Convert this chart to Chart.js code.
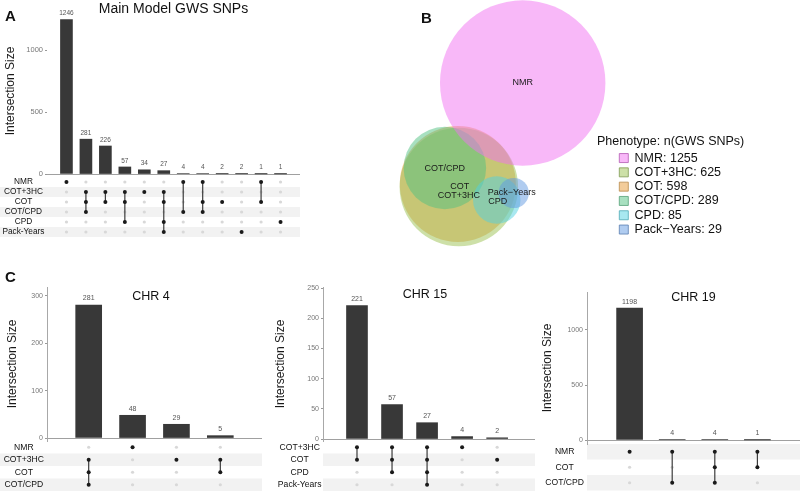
<!DOCTYPE html>
<html>
<head>
<meta charset="utf-8">
<script src="https://cdn.jsdelivr.net/npm/chart.js@4.4.0/dist/chart.umd.min.js"></script>
<style>
  body { margin: 0; background: #fff; }
  #page { position: relative; width: 800px; height: 492px; overflow: hidden; font-family: "Liberation Sans", Arial, sans-serif; }
  canvas { position: absolute; }
  .tag { position: absolute; font-weight: bold; font-size: 15px; line-height: 15px; color: #111; }
  #legTitle { position: absolute; left: 597px; top: 134px; font-size: 12.5px; line-height: 14px; color: #111; }
</style>
</head>
<body>
<div id="page">
  <canvas id="cA" width="305" height="245" style="left:0;top:0"></canvas>
  <canvas id="cB" width="420" height="260" style="left:380px;top:0"></canvas>
  <canvas id="c4" width="270" height="212" style="left:0;top:280px"></canvas>
  <canvas id="c15" width="270" height="212" style="left:270px;top:280px"></canvas>
  <canvas id="c19" width="260" height="212" style="left:540px;top:280px"></canvas>
  <div class="tag" style="left:5px;top:8px">A</div>
  <div class="tag" style="left:421px;top:10px">B</div>
  <div class="tag" style="left:5px;top:269px">C</div>
  <div id="legTitle">Phenotype: n(GWS SNPs)</div>
</div>
<script>
Chart.defaults.font.family = '"Liberation Sans", Arial, sans-serif';
Chart.defaults.animation = false;

// Panel A - main model intersections
const aSets = ["NMR", "COT+3HC", "COT", "COT/CPD", "CPD", "Pack-Years"];
const aSizes = [1246, 281, 226, 57, 34, 27, 4, 4, 2, 2, 1, 1];
const aMembers = [
  ["NMR"],
  ["COT+3HC", "COT", "COT/CPD"],
  ["COT+3HC", "COT"],
  ["COT+3HC", "COT", "CPD"],
  ["COT+3HC"],
  ["COT+3HC", "COT", "CPD", "Pack-Years"],
  ["NMR", "COT/CPD"],
  ["NMR", "COT", "COT/CPD"],
  ["COT"],
  ["Pack-Years"],
  ["NMR", "COT"],
  ["CPD"]
];
const aTicks = [0, 500, 1000];

// Panel B - euler diagram
const vennSets = ["NMR", "COT+3HC", "COT", "COT/CPD", "CPD", "Pack\u2212Years"];
const vennCounts = [1255, 625, 598, 289, 85, 29];

// Panel C - per chromosome
const c4Sets = ["NMR", "COT+3HC", "COT", "COT/CPD"];
const c4Sizes = [281, 48, 29, 5];
const c4Members = [["COT+3HC", "COT", "COT/CPD"], ["NMR"], ["COT+3HC"], ["COT+3HC", "COT"]];
const c4Ticks = [0, 100, 200, 300];

const c15Sets = ["COT+3HC", "COT", "CPD", "Pack-Years"];
const c15Sizes = [221, 57, 27, 4, 2];
const c15Members = [
  ["COT+3HC", "COT"],
  ["COT+3HC", "COT", "CPD"],
  ["COT+3HC", "COT", "CPD", "Pack-Years"],
  ["COT+3HC"],
  ["COT"]
];
const c15Ticks = [0, 50, 100, 150, 200, 250];

const c19Sets = ["NMR", "COT", "COT/CPD"];
const c19Sizes = [1198, 4, 4, 1];
const c19Members = [["NMR"], ["NMR", "COT/CPD"], ["NMR", "COT", "COT/CPD"], ["NMR", "COT"]];
const c19Ticks = [0, 500, 1000];

// layout of the euler circles (page pixels) and their look
const vennCenters = [[523, 83], [459, 187], [458, 184], [445, 168], [497, 200], [514, 193]];
const vennFill = ["rgba(242,114,242,0.5)", "rgba(155,193,81,0.5)", "rgba(231,153,53,0.5)",
                  "rgba(81,193,129,0.5)", "rgba(81,209,225,0.5)", "rgba(97,153,225,0.5)"];
const vennEdge = ["#b45ab4", "#7f9a52", "#b98a4c", "#55a178", "#4fa9b5", "#5b7fb0"];
const vennOrder = [1, 5, 6, 4, 3, 2];
const vennDx = [0, 0, 2, 0, 1, -2];
const vennDy = [0, 9, 3, 1, 2, 0];

const FONT = '"Liberation Sans", Arial, sans-serif';

const upsetDeco = {
  id: 'upsetDeco',
  beforeDraw(chart, args, o) {
    const ys = chart.scales.ys, ca = chart.chartArea, ctx = chart.ctx;
    const n = ys.getLabels().length;
    const h = Math.abs(ys.getPixelForValue(1) - ys.getPixelForValue(0));
    const x0 = o.bandLeft ? 0 : ca.left;
    ctx.save();
    ctx.fillStyle = '#f2f2f2';
    for (let i = 0; i < n; i++) {
      if ((n - 1 - i) % 2) continue;
      const yc = ys.getPixelForValue(i);
      ctx.fillRect(x0, yc - h / 2, ca.right - x0, h);
    }
    ctx.restore();
  },
  afterDatasetsDraw(chart, args, o) {
    const ctx = chart.ctx;
    const ds = chart.data.datasets[0];
    ctx.save();
    ctx.font = o.valueSize + 'px ' + FONT;
    ctx.fillStyle = '#555';
    ctx.textAlign = 'center';
    ctx.textBaseline = 'bottom';
    chart.getDatasetMeta(0).data.forEach((el, i) => {
      ctx.fillText(String(ds.data[i].y), el.x, el.y - 3);
    });
    ctx.restore();
  },
  afterDraw(chart, args, o) {
    const ctx = chart.ctx, ca = chart.chartArea;
    ctx.save();
    ctx.font = o.titleSize + 'px ' + FONT;
    ctx.fillStyle = '#111';
    ctx.textAlign = 'center';
    ctx.textBaseline = 'middle';
    ctx.fillText(o.title, (ca.left + ca.right) / 2 + o.titleDx, o.titleY);
    ctx.restore();
  }
};

function upset(id, sets, sizes, members, ticks, s) {
  const fixW = ax => { ax.width = s.axisW; ax.paddingTop = 0; ax.paddingBottom = 0; };
  const dots = [];
  sizes.forEach((v, c) => sets.forEach(name => dots.push({ x: c, y: name })));
  const links = members.map((m, c) => ({
    type: 'line', yAxisID: 'ys', order: 0,
    data: sets.filter(name => m.includes(name)).map(name => ({ x: c, y: name })),
    borderColor: '#3c3c3c', borderWidth: 1.2,
    pointRadius: 2, pointBackgroundColor: '#1a1a1a', pointBorderWidth: 0
  }));
  return new Chart(document.getElementById(id), {
    type: 'bar',
    data: {
      datasets: [
        { type: 'bar', yAxisID: 'y', order: 2,
          data: sizes.map((v, c) => ({ x: c, y: v })),
          backgroundColor: '#383838', barThickness: s.barW },
        { type: 'line', yAxisID: 'ys', order: 1, data: dots, showLine: false,
          pointRadius: 1.6, pointBackgroundColor: '#d8d8d8', pointBorderWidth: 0 },
        ...links
      ]
    },
    options: {
      responsive: false,
      layout: { padding: s.pad, autoPadding: false },
      plugins: {
        legend: { display: false },
        tooltip: { enabled: false },
        upsetDeco: { bandLeft: s.bandLeft, valueSize: s.valueSize, title: s.title,
                     titleSize: s.titleSize, titleY: s.titleY, titleDx: s.titleDx }
      },
      scales: {
        x: { type: 'linear', min: s.xmin, max: s.xmax, offset: false, display: false },
        y: {
          type: 'linear', position: 'left', stack: 'u', stackWeight: s.wBars, weight: 1,
          min: s.ymin, max: s.ymax,
          afterBuildTicks: ax => { ax.ticks = ticks.map(v => ({ value: v })); },
          afterFit: fixW,
          border: { display: s.axisLine, color: '#a8a8a8' },
          grid: {
            drawOnChartArea: true,
            color: c => (c.tick && c.tick.value === 0 ? '#a0a0a0' : 'rgba(0,0,0,0)'),
            tickColor: '#999', tickLength: 2
          },
          ticks: { color: '#777', font: { size: s.tickSize }, padding: 2, callback: v => String(v) },
          title: { display: true, text: 'Intersection Size', color: '#1a1a1a',
                   font: { size: 12 }, padding: { top: s.titlePad, bottom: 0 } }
        },
        ys: {
          type: 'category', labels: sets, offset: true, position: 'left',
          stack: 'u', stackWeight: s.wMat, weight: 0,
          afterFit: fixW,
          border: { display: false },
          grid: { display: false, drawTicks: false, tickLength: 0 },
          ticks: { color: '#111', font: { size: s.setSize }, crossAlign: 'center',
                   padding: s.labPad, autoSkip: false }
        }
      }
    },
    plugins: [upsetDeco]
  });
}

upset('cA', aSets, aSizes, aMembers, aTicks, {
  axisW: 47, pad: { top: 5, right: 5, bottom: 8, left: 0 }, wBars: 172, wMat: 60,
  ymin: -24, ymax: 1363, xmin: -1, xmax: 12, barW: 12, tickSize: 7.5, setSize: 8.3,
  labPad: 2.5, titlePad: 3, axisLine: false, bandLeft: true, valueSize: 6.5,
  title: 'Main Model GWS SNPs', titleSize: 14, titleY: 9, titleDx: 0
});

upset('c4', c4Sets, c4Sizes, c4Members, c4Ticks, {
  axisW: 47, pad: { top: 7, right: 8, bottom: 1, left: 0 }, wBars: 154, wMat: 50,
  ymin: -6.3, ymax: 319, xmin: -0.95, xmax: 3.95, barW: 26, tickSize: 7, setSize: 8.6,
  labPad: 3, titlePad: 5, axisLine: true, bandLeft: true, valueSize: 7,
  title: 'CHR 4', titleSize: 12.5, titleY: 17, titleDx: -3.5
});

upset('c15', c15Sets, c15Sizes, c15Members, c15Ticks, {
  axisW: 53, pad: { top: 7, right: 5, bottom: 1, left: 0 }, wBars: 154, wMat: 50,
  ymin: -3.3, ymax: 251.7, xmin: -0.97, xmax: 5.08, barW: 21, tickSize: 7, setSize: 8.6,
  labPad: 1.5, titlePad: 3, axisLine: true, bandLeft: false, valueSize: 7,
  title: 'CHR 15', titleSize: 12.5, titleY: 15, titleDx: -4
});

upset('c19', c19Sets, c19Sizes, c19Members, c19Ticks, {
  axisW: 47, pad: { top: 12, right: 0, bottom: 1.5, left: 0 }, wBars: 152, wMat: 46.5,
  ymin: -36, ymax: 1345, xmin: -1, xmax: 4, barW: 26, tickSize: 7, setSize: 8.6,
  labPad: 3, titlePad: 0, axisLine: true, bandLeft: false, valueSize: 7,
  title: 'CHR 19', titleSize: 12.5, titleY: 18, titleDx: 0
});

// Euler diagram labels at the circle centres
const vennText = {
  id: 'vennText',
  afterDatasetsDraw(chart) {
    const ctx = chart.ctx;
    ctx.save();
    ctx.font = '9px ' + FONT;
    ctx.fillStyle = '#1a1a1a';
    ctx.textAlign = 'center';
    ctx.textBaseline = 'middle';
    chart.data.datasets.forEach((ds, i) => {
      const el = chart.getDatasetMeta(i).data[0];
      ctx.fillText(vennSets[i], el.x + vennDx[i], el.y + vennDy[i]);
    });
    ctx.restore();
  }
};

new Chart(document.getElementById('cB'), {
  type: 'bubble',
  data: {
    datasets: vennSets.map((name, i) => ({
      label: name + ': ' + vennCounts[i],
      data: [{ x: vennCenters[i][0], y: vennCenters[i][1], r: 2.25 * Math.sqrt(vennCounts[i]) + 3 }],
      backgroundColor: vennFill[i],
      borderWidth: 0,
      order: vennOrder[i],
      clip: false
    }))
  },
  options: {
    responsive: false,
    layout: { padding: { top: 150, right: 68, bottom: 0, left: 0 }, autoPadding: false },
    scales: {
      x: { type: 'linear', display: false, min: 380, max: 618 },
      y: { type: 'linear', display: false, reverse: true, min: 150, max: 260 }
    },
    plugins: {
      tooltip: { enabled: false },
      legend: {
        position: 'right', align: 'start',
        labels: {
          boxWidth: 9, boxHeight: 9, padding: 1.8, color: '#111', font: { size: 12.5 },
          sort: (a, b) => a.datasetIndex - b.datasetIndex,
          generateLabels: chart => Chart.defaults.plugins.legend.labels.generateLabels(chart)
            .map(it => Object.assign(it, { lineWidth: 0.8, strokeStyle: vennEdge[it.datasetIndex] }))
        }
      }
    }
  },
  plugins: [vennText]
});
</script>
</body>
</html>
